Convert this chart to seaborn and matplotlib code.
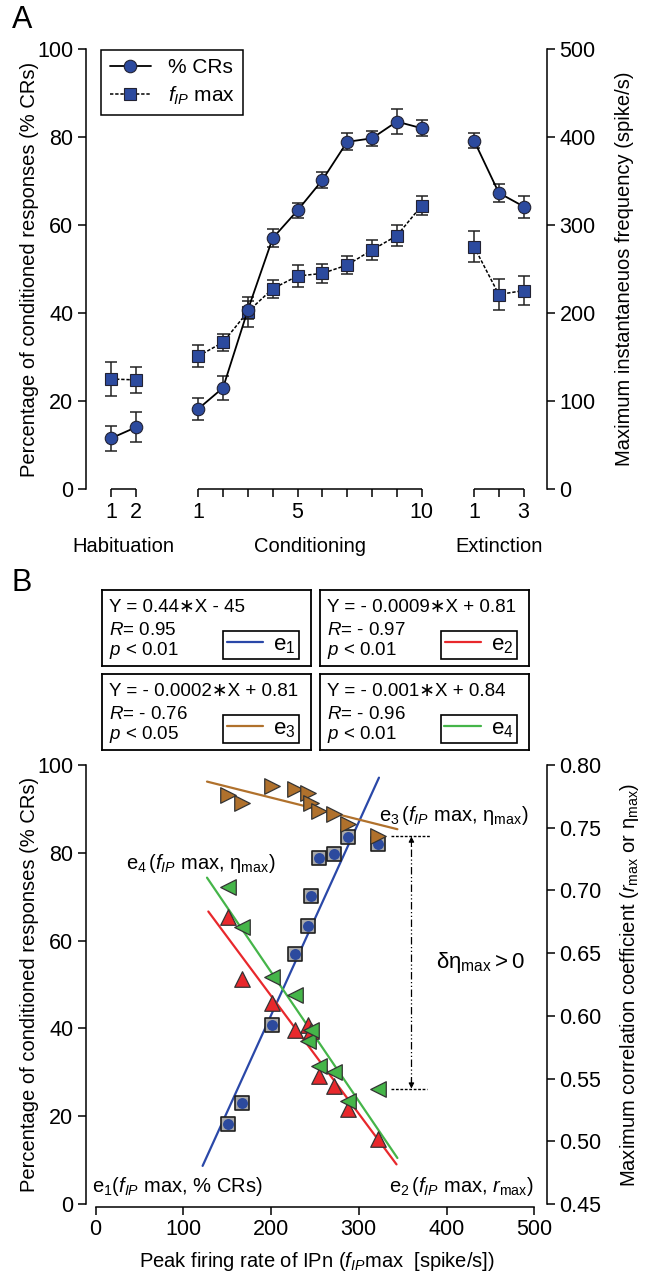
import numpy as np
import pandas as pd
import matplotlib
matplotlib.use("Agg")
import matplotlib.pyplot as plt
import matplotlib.transforms as mtransforms
from matplotlib.lines import Line2D
import seaborn as sns

# ---------------- Panel A data ----------------
hab_labels = ["1", "2"]
cond_labels = ["1", "", "", "", "5", "", "", "", "", "10"]
ext_labels = ["1", "", "3"]
group_names = ["Habituation", "Conditioning", "Extinction"]

hab_cr = [11.5, 14.0]
hab_cr_err = [2.9, 3.4]
cond_cr = [18.2, 23.0, 40.7, 57.0, 63.3, 70.2, 78.9, 79.7, 83.5, 82.0]
cond_cr_err = [2.5, 2.7, 2.0, 2.0, 1.7, 1.9, 1.9, 1.7, 2.9, 1.8]
ext_cr = [79.2, 67.3, 64.2]
ext_cr_err = [1.7, 2.0, 2.5]

hab_f = [125.0, 124.0]
hab_f_err = [19.0, 15.0]
cond_f = [151.0, 166.7, 201.5, 227.6, 242.0, 245.0, 254.5, 271.6, 287.8, 322.0]
cond_f_err = [12.3, 9.8, 17.0, 10.4, 12.0, 11.0, 10.2, 11.7, 11.7, 10.8]
ext_f = [275.4, 221.0, 225.5]
ext_f_err = [17.6, 17.6, 16.5]

# ---------------- Panel B data ----------------
r_max = [0.679, 0.629, 0.610, 0.589, 0.593, 0.588, 0.552, 0.544, 0.526, 0.502]
eta_cond = [0.703, 0.671, 0.631, 0.617, 0.580, 0.589, 0.560, 0.555, 0.532, 0.542]
eta_ext = [0.776, 0.770, 0.783, 0.781, 0.778, 0.770, 0.763, 0.761, 0.753, 0.743]

fit_names = ["e1", "e2", "e3", "e4"]
fit_slopes = [0.44, -0.00094, -0.000175, -0.00103]
fit_intercepts = [-45.0, 0.804, 0.809, 0.841]
fit_x_from = [122.0, 128.5, 127.0, 127.0]
fit_x_to = [323.0, 343.0, 344.0, 344.0]
eq_texts = ["Y = 0.44\u2217X - 45", "Y = - 0.0009\u2217X + 0.81",
            "Y = - 0.0002\u2217X + 0.81", "Y = - 0.001\u2217X + 0.84"]
r_texts = ["= 0.95", "= - 0.97", "= - 0.76", "= - 0.96"]
p_texts = ["< 0.01", "< 0.01", "< 0.05", "< 0.01"]

BLUE = "#2c4a9e"
BLUE_LINE = "#2a48a8"
RED = "#e8282c"
GREEN = "#45b549"
BROWN = "#b0712c"

sns.set_theme(style="ticks")
plt.rcParams["font.family"] = ["Liberation Sans", "DejaVu Sans"]
plt.rcParams.update({
    "mathtext.fontset": "custom",
    "mathtext.rm": "Liberation Sans",
    "mathtext.it": "Liberation Sans:italic",
    "mathtext.bf": "Liberation Sans:bold",
    "axes.linewidth": 1.1,
    "xtick.major.width": 1.1,
    "ytick.major.width": 1.1,
    "xtick.major.size": 5.5,
    "ytick.major.size": 5.5,
    "xtick.labelsize": 15.5,
    "ytick.labelsize": 15.5,
    "axes.labelsize": 14.5,
    "text.color": "black",
    "axes.labelcolor": "black",
    "xtick.color": "black",
    "ytick.color": "black",
    "axes.edgecolor": "black",
})
FS = 14.5

W, H = 652, 1275
fig = plt.figure(figsize=(W / 100, H / 100), dpi=100)

def px_axes(l, t, r, b):
    return [l / W, 1 - b / H, (r - l) / W, (b - t) / H]

# ================= Panel A =================
hab_pos = np.arange(len(hab_cr)) * 1.0
cond_pos = 3.52 + np.arange(len(cond_cr))
ext_pos = 14.63 + np.arange(len(ext_cr))

dfA = pd.DataFrame({
    "pos": np.concatenate([hab_pos, cond_pos, ext_pos]),
    "group": ["hab"] * 2 + ["cond"] * 10 + ["ext"] * 3,
    "cr": hab_cr + cond_cr + ext_cr,
    "cr_err": hab_cr_err + cond_cr_err + ext_cr_err,
    "f": hab_f + cond_f + ext_f,
    "f_err": hab_f_err + cond_f_err + ext_f_err,
})

axA = fig.add_axes(px_axes(86, 49, 547, 489))
axA2 = axA.twinx()
axA.set_zorder(axA2.get_zorder() + 1)
axA.patch.set_visible(False)

axA2.errorbar(dfA["pos"], dfA["f"], yerr=dfA["f_err"], fmt="none", ecolor="#222222",
              elinewidth=1.1, capsize=4, capthick=1.1, zorder=2)
sns.lineplot(data=dfA, x="pos", y="f", units="group", estimator=None, sort=False,
             ax=axA2, color="black", linestyle=(0, (2.2, 1.2)), lw=1.1,
             marker="s", markersize=8.5, markerfacecolor=BLUE, markeredgecolor="#222233",
             markeredgewidth=0.8, legend=False, zorder=3)

axA.errorbar(dfA["pos"], dfA["cr"], yerr=dfA["cr_err"], fmt="none", ecolor="#222222",
             elinewidth=1.1, capsize=4, capthick=1.1, zorder=2)
sns.lineplot(data=dfA, x="pos", y="cr", units="group", estimator=None, sort=False,
             ax=axA, color="black", lw=1.3, marker="o", markersize=9,
             markerfacecolor=BLUE, markeredgecolor="#222233", markeredgewidth=0.8,
             legend=False, zorder=3)

axA.set_xlim(-1.0, 17.57)
axA.set_ylim(0, 100)
axA2.set_ylim(0, 500)
axA.set_yticks([0, 20, 40, 60, 80, 100])
axA2.set_yticks([0, 100, 200, 300, 400, 500])
axA.set_xticks(dfA["pos"])
axA.set_xticklabels(hab_labels + cond_labels + ext_labels)
axA.tick_params(axis="x", pad=4)
axA.set_xlabel("")
axA.set_ylabel("Percentage of conditioned responses (% CRs)", fontsize=FS, labelpad=-1)
axA2.set_ylabel("Maximum instantaneuos frequency (spike/s)", fontsize=FS, labelpad=14)
for sp in ["top", "right", "bottom"]:
    axA.spines[sp].set_visible(False)
for sp in ["top", "left", "bottom"]:
    axA2.spines[sp].set_visible(False)

blend = mtransforms.blended_transform_factory(axA.transData, axA.transAxes)
for pos, name in zip([hab_pos, cond_pos, ext_pos], group_names):
    axA.hlines(0, pos[0], pos[-1], color="black", lw=1.1, clip_on=False, zorder=5)
    axA.text((pos[0] + pos[-1]) / 2, -0.13, name, transform=blend, ha="center",
             va="center", fontsize=FS)

handles = [
    Line2D([], [], color="black", lw=1.3, marker="o", markersize=9,
           markerfacecolor=BLUE, markeredgecolor="#222233", markeredgewidth=0.8),
    Line2D([], [], color="black", lw=1.1, linestyle=(0, (2.2, 1.2)), marker="s",
           markersize=8.5, markerfacecolor=BLUE, markeredgecolor="#222233",
           markeredgewidth=0.8),
]
legA = axA.legend(handles, ["% CRs", r"$f_{IP}$ max"], loc="upper left",
                  bbox_to_anchor=(0.033, 0.998), borderaxespad=0, frameon=True,
                  fancybox=False, edgecolor="black", framealpha=1, fontsize=FS + 0.5,
                  handlelength=2.0, handletextpad=0.8, labelspacing=0.35, borderpad=0.4)
legA.get_frame().set_linewidth(1.1)

# ================= Panel B =================
axB = fig.add_axes(px_axes(86, 765, 547, 1204))
axB2 = axB.twinx()
axB.set_xlim(-10.9, 514.5)
axB.set_ylim(0, 100)
axB2.set_ylim(0.45, 0.80)

line_colors = [BLUE_LINE, RED, BROWN, GREEN]
for i in range(4):
    xs = np.array([fit_x_from[i], fit_x_to[i]])
    ys = fit_slopes[i] * xs + fit_intercepts[i]
    target = axB if i == 0 else axB2
    sns.lineplot(x=xs, y=ys, ax=target, color=line_colors[i], lw=1.6, zorder=2,
                 legend=False)

# blue: (fIP max, % CRs)
sns.scatterplot(x=cond_f, y=cond_cr, ax=axB, marker="s", s=105, color="#a9a9a9",
                edgecolor="#1e1e1e", linewidth=1.2, zorder=3, legend=False)
sns.scatterplot(x=cond_f, y=cond_cr, ax=axB, marker="o", s=62, color=BLUE,
                edgecolor=BLUE, linewidth=0, zorder=4, legend=False)
# red: r_max, green: eta (conditioning), brown: eta (extinction-like)
sns.scatterplot(x=cond_f, y=r_max, ax=axB2, marker="^", s=125, color=RED,
                edgecolor="#333333", linewidth=0.9, zorder=3, legend=False)
sns.scatterplot(x=cond_f, y=eta_cond, ax=axB2, marker="<", s=125, color=GREEN,
                edgecolor="#333333", linewidth=0.9, zorder=4, legend=False)
sns.scatterplot(x=cond_f, y=eta_ext, ax=axB2, marker=">", s=125, color=BROWN,
                edgecolor="#333333", linewidth=0.9, zorder=5, legend=False)

# delta annotation
x_arrow = 360.0
top_v, bot_v = eta_ext[-1], eta_cond[-1]
axB2.plot([337, 382], [top_v, top_v], color="black", lw=1.0, ls=(0, (2, 1.2)))
axB2.plot([337, 378], [bot_v, bot_v], color="black", lw=1.0, ls=(0, (2, 1.2)))
axB2.plot([x_arrow, x_arrow], [bot_v + 0.004, top_v - 0.004], color="black", lw=0.9,
          ls=(0, (6, 2, 1, 2, 1, 2)))
axB2.annotate("", xy=(x_arrow, top_v), xytext=(x_arrow, top_v - 0.008),
              arrowprops=dict(arrowstyle="-|>", color="black", lw=0.8, mutation_scale=8,
                              shrinkA=0, shrinkB=0))
axB2.annotate("", xy=(x_arrow, bot_v), xytext=(x_arrow, bot_v + 0.008),
              arrowprops=dict(arrowstyle="-|>", color="black", lw=0.8, mutation_scale=8,
                              shrinkA=0, shrinkB=0))

axB.text(0.855, 0.549, r"$\mathrm{δη}_{\mathrm{max}} > 0$", transform=axB.transAxes,
         fontsize=FS + 1.5, ha="center", va="center")
axB.text(0.636, 0.886, r"$\mathrm{e}_3\,(f_{IP}$ max, $\mathrm{η}_{\mathrm{max}})$",
         transform=axB.transAxes, fontsize=FS, ha="left", va="center")
axB.text(0.087, 0.776, r"$\mathrm{e}_4\,(f_{IP}$ max, $\mathrm{η}_{\mathrm{max}})$",
         transform=axB.transAxes, fontsize=FS, ha="left", va="center")
axB.text(0.014, 0.040, r"$\mathrm{e}_1(f_{IP}$ max, % CRs)", transform=axB.transAxes,
         fontsize=FS, ha="left", va="center")
axB.text(0.972, 0.040, r"$\mathrm{e}_2\,(f_{IP}$ max, $r_{\mathrm{max}})$",
         transform=axB.transAxes, fontsize=FS, ha="right", va="center")

axB.set_xticks([0, 100, 200, 300, 400, 500])
axB.set_yticks([0, 20, 40, 60, 80, 100])
axB2.set_yticks([0.45, 0.50, 0.55, 0.60, 0.65, 0.70, 0.75, 0.80])
axB2.set_yticklabels([f"{v:.2f}" for v in [0.45, 0.50, 0.55, 0.60, 0.65, 0.70, 0.75, 0.80]])
axB.spines["bottom"].set_bounds(0, 500)
axB.spines["bottom"].set_position(("outward", 2))
for sp in ["top", "right"]:
    axB.spines[sp].set_visible(False)
for sp in ["top", "left", "bottom"]:
    axB2.spines[sp].set_visible(False)
axB.set_xlabel(r"Peak firing rate of IPn ($f_{IP}$max  [spike/s])", fontsize=FS,
               labelpad=7)
axB.set_ylabel("Percentage of conditioned responses (% CRs)", fontsize=FS, labelpad=-1)
axB2.set_ylabel(r"Maximum correlation coefficient ($r_{\mathrm{max}}$ or $\mathrm{η}_{\mathrm{max}}$)",
                fontsize=FS, labelpad=12)

# equation boxes
EQ_FS = 13.5
box_px = [(102, 590, 311, 666), (320, 590, 529, 666),
          (102, 674, 311, 750), (320, 674, 529, 750)]
for i, (l, t, r, b) in enumerate(box_px):
    bx = fig.add_axes(px_axes(l, t, r, b))
    bx.set_xlim(0, 1)
    bx.set_ylim(0, 1)
    bx.set_xticks([])
    bx.set_yticks([])
    for sp in bx.spines.values():
        sp.set_visible(True)
        sp.set_linewidth(1.3)
        sp.set_color("black")
    bx.text(0.035, 0.715, eq_texts[i], fontsize=EQ_FS, va="baseline", ha="left")
    bx.text(0.035, 0.405, r"$R$" + r_texts[i], fontsize=EQ_FS, va="baseline", ha="left")
    bx.text(0.035, 0.140, r"$p$" + " " + p_texts[i], fontsize=EQ_FS, va="baseline", ha="left")
    h = Line2D([], [], color=line_colors[i], lw=1.6)
    lg = bx.legend([h], [r"$\mathrm{e}_%d$" % (i + 1)], loc="lower right",
                   bbox_to_anchor=(0.943, 0.092), borderaxespad=0, frameon=True,
                   fancybox=False, edgecolor="black", framealpha=1, fontsize=FS + 1.5,
                   handlelength=1.65, handletextpad=0.45, borderpad=0.15)
    lg.get_frame().set_linewidth(1.2)

fig.text(12 / W, 1 - 5 / H, "A", fontsize=22, ha="left", va="top")
fig.text(12 / W, 1 - 568 / H, "B", fontsize=22, ha="left", va="top")

fig.savefig("out.png", dpi=100)
